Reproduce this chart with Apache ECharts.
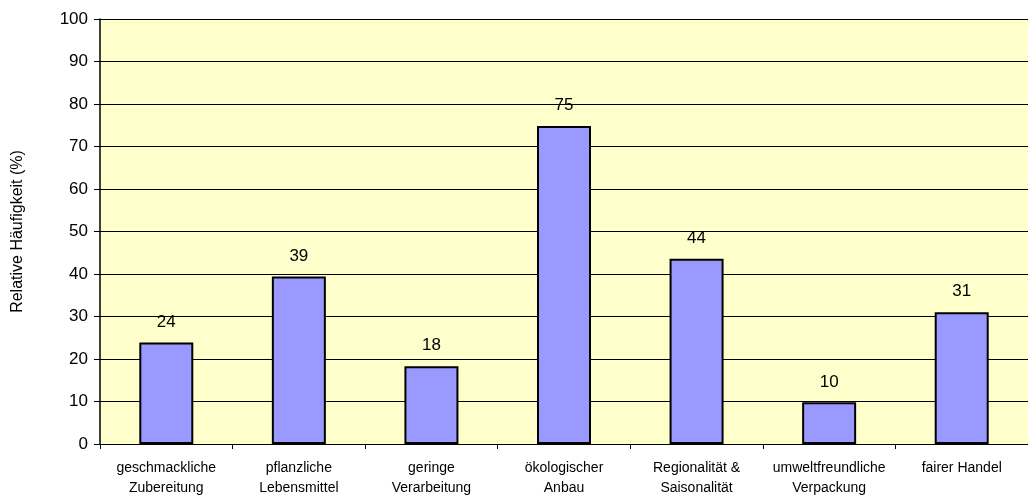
<!DOCTYPE html>
<html>
<head>
<meta charset="utf-8">
<script src="https://cdn.jsdelivr.net/npm/echarts@6/dist/echarts.min.js"></script>
<style>
  html, body { margin: 0; padding: 0; background: #fff; }
  #chart { width: 1028px; height: 498px; }
</style>
</head>
<body>
<div id="chart"></div>
<script>
// Kategorien (zweizeilig wie im Original)
var categories = [
  'geschmackliche\nZubereitung',
  'pflanzliche\nLebensmittel',
  'geringe\nVerarbeitung',
  'ökologischer\nAnbau',
  'Regionalität &\nSaisonalität',
  'umweltfreundliche\nVerpackung',
  'fairer Handel'
]
// relative Häufigkeit in %
var values = [23.9, 39.4, 18.3, 74.8, 43.6, 9.8, 31.0]
var yTicks = [0, 10, 20, 30, 40, 50, 60, 70, 80, 90, 100]

var myChart = echarts.init(document.getElementById('chart'))
var font = 'Arial, "Liberation Sans", sans-serif'

var option = {
  animation: false,
  grid: { left: 100, right: 0, top: 19, bottom: 53, backgroundColor: '#FFFFCC', show: true, borderWidth: 0 },
  xAxis: {
    type: 'category',
    data: categories,
    axisLine: { lineStyle: { color: '#000', width: 1 } },
    axisTick: { show: true, length: 5, lineStyle: { color: '#000' } },
    axisLabel: { color: '#000', fontSize: 14, fontFamily: font, lineHeight: 20, margin: 14, interval: 0 }
  },
  yAxis: {
    type: 'value',
    min: yTicks[0],
    max: yTicks[yTicks.length - 1],
    interval: 10,
    name: 'Relative Häufigkeit (%)',
    nameLocation: 'middle',
    nameGap: 74,
    nameTextStyle: { color: '#000', fontSize: 16, fontFamily: font },
    axisLine: { show: true, lineStyle: { color: '#000', width: 1.5 } },
    axisTick: { show: true, length: 6, lineStyle: { color: '#000' } },
    axisLabel: { color: '#000', fontSize: 17, fontFamily: font, margin: 12 },
    splitLine: { show: true, lineStyle: { color: '#000', width: 1 } }
  },
  series: [
    {
      type: 'bar',
      data: values,
      barWidth: 54,
      itemStyle: { color: '#9999FF', borderColor: '#000', borderWidth: 2 },
      label: {
        show: true,
        position: 'top',
        distance: 12,
        color: '#000',
        fontSize: 17,
        fontFamily: font,
        formatter: function(p) {
          return Math.round(p.value)
        }
      }
    }
  ]
}
myChart.setOption(option)
</script>
</body>
</html>
